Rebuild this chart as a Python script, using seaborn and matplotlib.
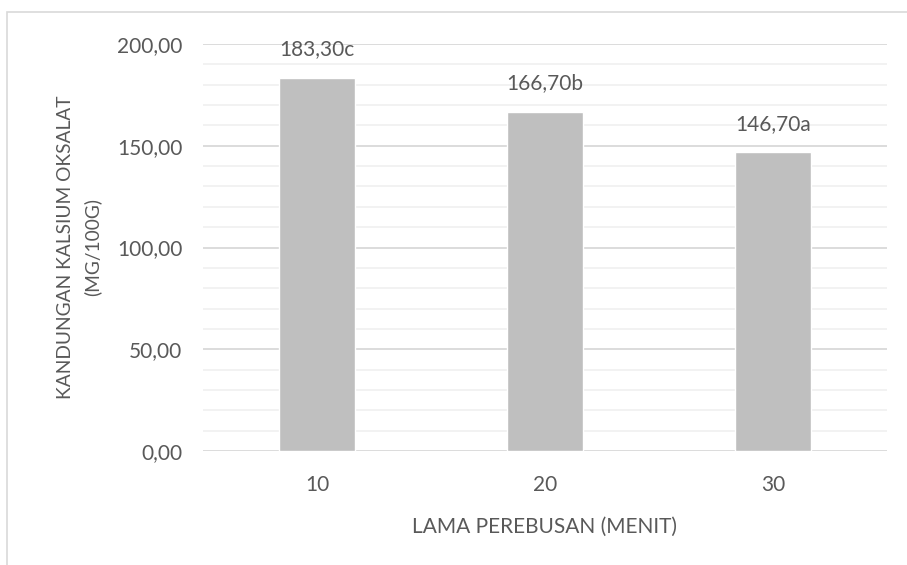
import matplotlib
matplotlib.use("Agg")
import matplotlib.pyplot as plt
from matplotlib.ticker import MultipleLocator, FuncFormatter
from matplotlib.patches import Rectangle
import seaborn as sns
import pandas as pd

# Boiling time (minutes) vs calcium oxalate content
durations = ["10", "20", "30"]
oxalate = [183.30, 166.70, 146.70]
letters = ["c", "b", "a"]

df = pd.DataFrame({"durasi": durations, "oksalat": oxalate})

sns.set_theme(style="white")
plt.rcParams["font.family"] = ["Lato", "DejaVu Sans"]

text_col = "#595959"
fs = 15
fig = plt.figure(figsize=(9.07, 5.65), dpi=100)
ax = fig.add_axes([203 / 907, 1 - 451 / 565, 684 / 907, 407 / 565])

sns.barplot(data=df, x="durasi", y="oksalat", color="#bfbfbf", saturation=1,
            width=0.333, ax=ax, zorder=3)

ax.set_xlim(-0.5, 2.5)
ax.set_ylim(0, 200)
ax.yaxis.set_major_locator(MultipleLocator(50))
ax.yaxis.set_minor_locator(MultipleLocator(10))
ax.yaxis.set_major_formatter(FuncFormatter(lambda v, p: f"{v:.2f}".replace(".", ",")))
ax.grid(which="major", axis="y", color="#d9d9d9", linewidth=1.3, zorder=0)
ax.grid(which="minor", axis="y", color="#f0f0f0", linewidth=1.2, zorder=0)
ax.grid(False, axis="x")
for s in ax.spines.values():
    s.set_visible(False)

ax.tick_params(axis="both", which="both", length=0, labelsize=fs, colors=text_col)
ax.tick_params(axis="y", pad=15)
ax.tick_params(axis="x", pad=17)

for i, (v, l) in enumerate(zip(oxalate, letters)):
    ax.annotate(f"{v:.2f}".replace(".", ",") + l, (i, v), xytext=(0, 13.5),
                textcoords="offset points", ha="center", va="bottom",
                fontsize=fs, color=text_col)

ax.set_xlabel("LAMA PEREBUSAN (MENIT)", fontsize=fs, color=text_col, labelpad=16)
ax.set_ylabel("KANDUNGAN KALSIUM OKSALAT\n(MG/100G)", fontsize=13.8, color=text_col,
              linespacing=1.6)
ax.yaxis.set_label_coords(-102 / 684, 0.5)

# chart frame
fig.patches.append(Rectangle((7 / 907, -0.05), 1.2, (565 - 12) / 565 + 0.05,
                             transform=fig.transFigure, fill=False,
                             edgecolor="#d9d9d9", linewidth=1.2))

fig.savefig("out.png", dpi=100)
